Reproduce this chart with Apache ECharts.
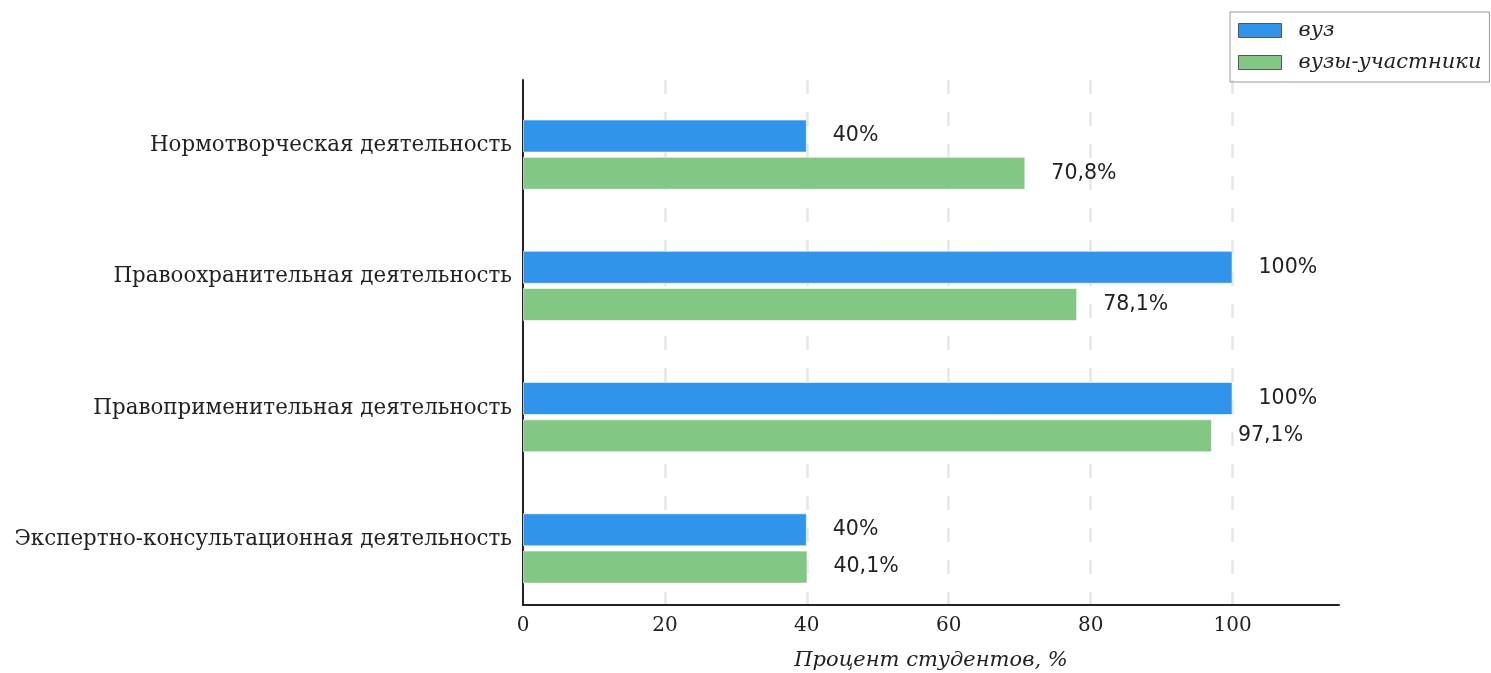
<!DOCTYPE html>
<html>
<head>
<meta charset="utf-8">
<script src="https://cdn.jsdelivr.net/npm/echarts@6/dist/echarts.min.js"></script>
<style>
html,body{margin:0;padding:0;background:#fff;}
#chart{width:1491px;height:673px;}
</style>
</head>
<body>
<div id="chart"></div>
<script>
const categories = [
  'Нормотворческая деятельность',
  'Правоохранительная деятельность',
  'Правоприменительная деятельность',
  'Экспертно-консультационная деятельность'
];
const seriesNames = ['вуз', 'вузы-участники'];
const vuzValues = [40, 100, 100, 40];
const participantValues = [70.8, 78.1, 97.1, 40.1];
const xTicks = [0, 20, 40, 60, 80, 100];

const serif = '"DejaVu Serif", "Liberation Serif", serif';
const sans = '"DejaVu Sans", "Liberation Sans", sans-serif';

function fmt(v) { return String(v).replace('.', ',') + '%'; }

const chart = echarts.init(document.getElementById('chart'));
const barLabel = {
  show: true, position: 'right', distance: 26,
  fontFamily: sans, fontSize: 20.5, color: '#222',
  formatter: p => fmt(p.value)
};
chart.setOption({
  animation: false,
  backgroundColor: '#fff',
  grid: { left: 523, right: 152, top: 80, bottom: 68, containLabel: false, outerBoundsMode: 'none' },
  legend: {
    data: seriesNames,
    orient: 'vertical',
    left: 1230, top: 12,
    padding: [8, 8, 9, 8],
    icon: 'rect',
    itemWidth: 43, itemHeight: 14, itemGap: 11,
    borderColor: '#999', borderWidth: 1, borderRadius: 0,
    itemStyle: { borderColor: '#555', borderWidth: 1 },
    textStyle: { fontFamily: serif, fontStyle: 'italic', fontSize: 21, color: '#222', padding: [0, 0, 0, 12] }
  },
  xAxis: {
    type: 'value', min: 0, max: 115, interval: 20,
    name: 'Процент студентов, %', nameLocation: 'middle', nameGap: 45,
    nameTextStyle: { fontFamily: serif, fontStyle: 'italic', fontSize: 21, color: '#222' },
    axisLine: { show: true, lineStyle: { color: '#222', width: 2 } },
    axisTick: { show: false },
    axisLabel: {
      fontFamily: serif, fontSize: 20, color: '#222', margin: 11, showMaxLabel: false,
      formatter: v => (xTicks.indexOf(v) >= 0 ? String(v) : '')
    },
    splitLine: { show: true, showMaxLine: false, showMinLine: false,
      lineStyle: { color: '#e6e6e6', width: 2.5, type: [14, 18] } }
  },
  yAxis: {
    type: 'category', data: categories, inverse: true,
    axisLine: { show: true, lineStyle: { color: '#222', width: 2 } },
    axisTick: { show: false },
    axisLabel: { fontFamily: serif, fontSize: 21.4, color: '#222', margin: 11 },
    splitLine: { show: false }
  },
  series: [
    {
      name: '_offset', type: 'bar', data: categories.map(() => '-'),
      barWidth: 16, barGap: '13%', silent: true,
      itemStyle: { color: 'rgba(0,0,0,0)' }
    },
    {
      name: seriesNames[0], type: 'bar', data: vuzValues,
      barWidth: 33, barGap: '13%',
      itemStyle: { color: '#2f94ea', borderColor: 'rgba(255,255,255,0.6)', borderWidth: 1 },
      label: barLabel
    },
    {
      name: seriesNames[1], type: 'bar', data: participantValues,
      barWidth: 33, barGap: '13%',
      itemStyle: { color: '#83c784', borderColor: 'rgba(255,255,255,0.6)', borderWidth: 1 },
      label: barLabel
    }
  ]
});
</script>
</body>
</html>
